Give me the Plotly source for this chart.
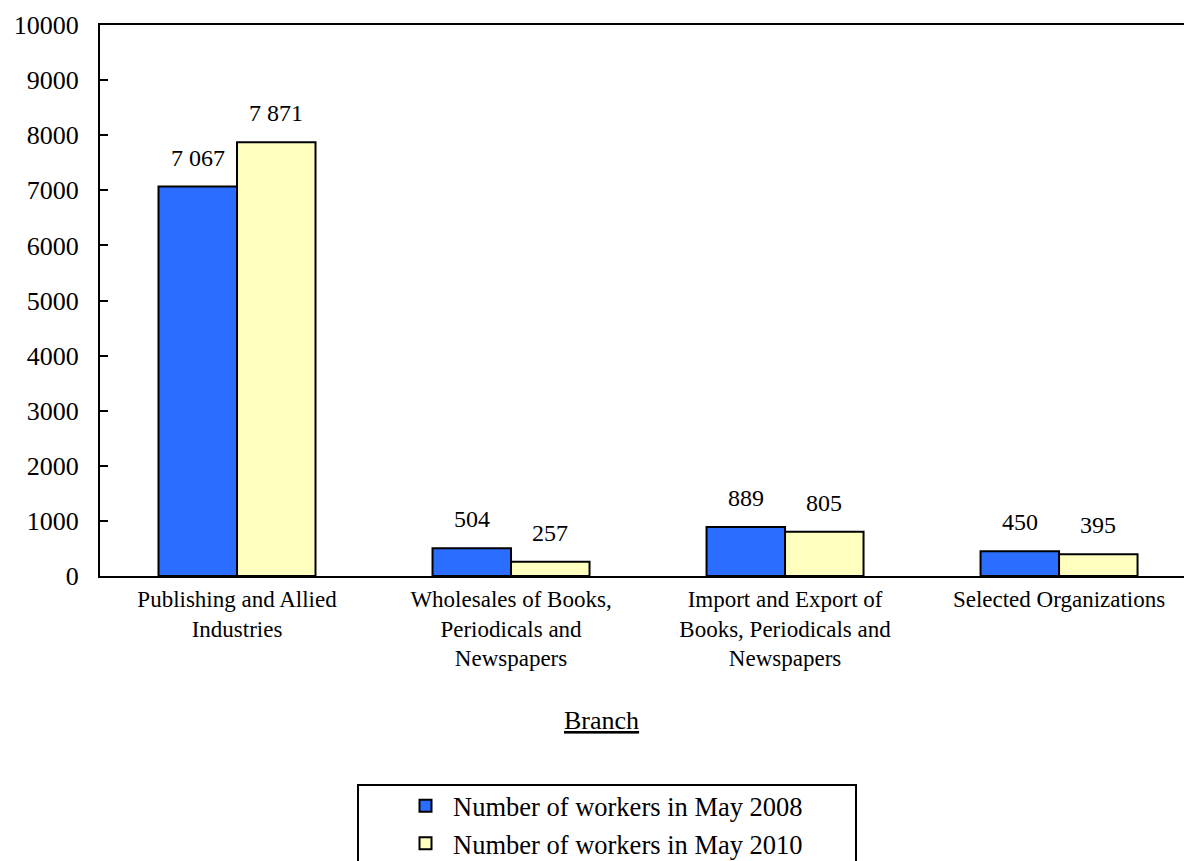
import plotly.graph_objects as go

branches = [
    "Publishing and Allied<br>Industries",
    "Wholesales of Books,<br>Periodicals and<br>Newspapers",
    "Import and Export of<br>Books, Periodicals and<br>Newspapers",
    "Selected Organizations",
]
workers_2008 = [7067, 504, 889, 450]
workers_2010 = [7871, 257, 805, 395]
series_names = ["Number of workers in May 2008", "Number of workers in May 2010"]
y_ticks = [0, 1000, 2000, 3000, 4000, 5000, 6000, 7000, 8000, 9000, 10000]

FONT = "Liberation Serif"
BLUE = "#2B6EFF"
YELLOW = "#FFFFC0"


def fmt(v):
    return f"{v:,}".replace(",", " ")


fig = go.Figure()
for name, vals, col in [(series_names[0], workers_2008, BLUE),
                        (series_names[1], workers_2010, YELLOW)]:
    fig.add_trace(go.Bar(
        x=list(range(len(branches))), y=vals, name=name,
        marker=dict(color=col, line=dict(color="black", width=2)),
    ))

# value labels above each bar
half = 0.1433
for i in range(len(branches)):
    for off, vals in [(-half, workers_2008), (half, workers_2010)]:
        fig.add_annotation(
            x=i + off, y=vals[i], xref="x", yref="y", text=fmt(vals[i]),
            showarrow=False, yanchor="bottom", yshift=14,
            font=dict(family=FONT, size=24, color="black"),
        )

# axis title
fig.add_annotation(
    x=(601 - 100) / 1084, y=(576 - 720) / 551, xref="paper", yref="paper",
    text="<u>Branch</u>", showarrow=False, xanchor="center", yanchor="middle",
    font=dict(family=FONT, size=26, color="black"),
)

# legend frame
fig.add_shape(
    type="rect", xref="paper", yref="paper",
    x0=(358 - 100) / 1084, x1=(856 - 100) / 1084,
    y0=(576 - 880) / 551, y1=(576 - 785) / 551,
    line=dict(color="black", width=2), fillcolor="rgba(0,0,0,0)",
)

fig.update_layout(
    width=1184, height=861,
    margin=dict(l=100, r=0, t=25, b=285, autoexpand=False),
    paper_bgcolor="white", plot_bgcolor="white",
    barmode="group", bargap=0.427, bargroupgap=0,
    font=dict(family=FONT, size=23, color="black"),
    showlegend=True,
    legend=dict(
        x=(398 - 100) / 1084, y=(576 - 782) / 551, xanchor="left", yanchor="top",
        bgcolor="rgba(0,0,0,0)", borderwidth=0, itemwidth=45,
        font=dict(family=FONT, size=26.5, color="black"),
        tracegroupgap=0,
    ),
    xaxis=dict(
        tickmode="array", tickvals=list(range(len(branches))), ticktext=branches,
        range=[-0.5, 3.456], showline=True, linecolor="black", linewidth=2,
        mirror=True, ticks="inside", ticklen=8, tickwidth=2, tickcolor="black",
        tickson="boundaries", showgrid=False, zeroline=False, ticklabelstandoff=1,
        tickfont=dict(family=FONT, size=23, color="black"),
    ),
    yaxis=dict(
        range=[0, 10000], tickvals=y_ticks, tickformat="d", showline=True,
        linecolor="black", linewidth=2, ticks="inside", ticklen=8, tickwidth=2,
        tickcolor="black", showgrid=False, zeroline=False, ticklabelstandoff=14,
        tickfont=dict(family=FONT, size=26, color="black"),
    ),
)

fig.write_html("out.html")
